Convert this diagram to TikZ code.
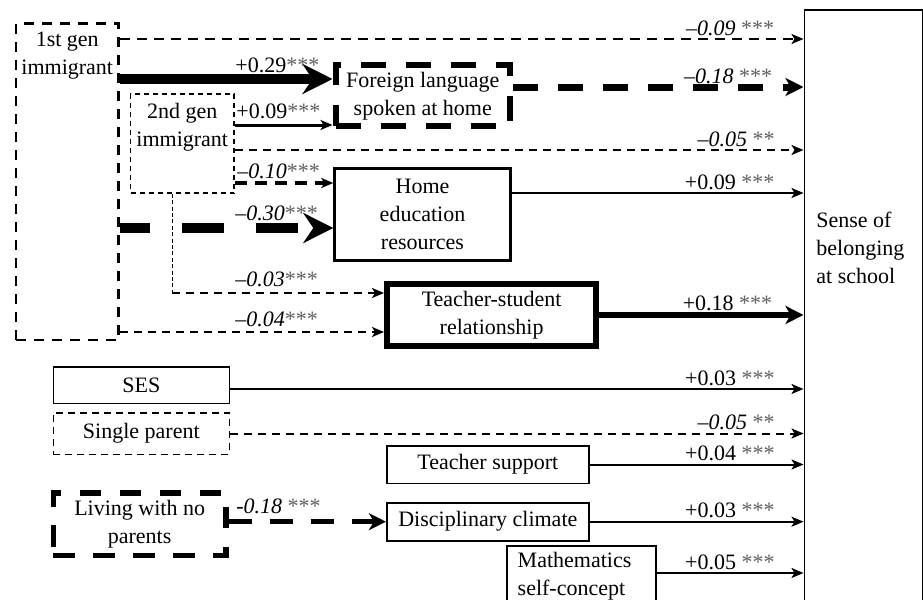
\documentclass[tikz,border=0pt]{standalone}
\usepackage{fontspec}
\setmainfont{Liberation Serif}
\usepackage{tikz}
\usetikzlibrary{arrows.meta,positioning}
\definecolor{stargray}{RGB}{95,95,95}
\newcommand{\sig}[1]{\textcolor{stargray}{#1}}

\begin{document}
\begin{tikzpicture}[x=0.5pt,y=-0.5pt,>={Stealth[length=6pt,width=5pt,inset=1.5pt]},
  every node/.style={align=center,font=\fontsize{11}{14}\selectfont},
  plainbox/.style={draw,line width=0.8pt},
  firstbox/.style={draw,line width=1.3pt,dash pattern=on 5pt off 4pt},
  secondbox/.style={draw,line width=0.7pt,dash pattern=on 2.5pt off 2pt},
  langbox/.style={draw,line width=3pt,dash pattern=on 12.5pt off 10pt},
  livebox/.style={draw,line width=2.7pt,dash pattern=on 10.8pt off 9.2pt},
  singlebox/.style={draw,line width=0.8pt,dash pattern=on 3.5pt off 2.5pt},
  thindash/.style={line width=1pt,dash pattern=on 4pt off 3pt},
  middash/.style={line width=1.3pt,dash pattern=on 5pt off 3.5pt},
  thickdash/.style={line width=2pt,dash pattern=on 6pt off 4pt},
  heavydash/.style={line width=3.5pt,dash pattern=on 12.5pt off 10pt},
  livedash/.style={line width=2.5pt,dash pattern=on 11.5pt off 9pt},
  finedash/.style={line width=0.5pt,dash pattern=on 2pt off 1.2pt},
  llbl/.style={anchor=base west,inner sep=0pt},
  rlbl/.style={anchor=base east,inner sep=0pt,xshift=-14pt,yshift=2pt}]
  \useasboundingbox (0,0) rectangle (923,600);

  \node[firstbox,minimum width=51.25pt,minimum height=158.25pt] (gen1) at (67.25,181.75) {};
  \node[anchor=north,inner sep=0pt] (gen1txt) at ([yshift=-4.5pt]gen1.north) {1st gen\\immigrant};
  \node[secondbox,minimum width=51.75pt,minimum height=49.5pt] (gen2) at (182.25,143.5) {};
  \node[anchor=north,inner sep=0pt] (gen2txt) at ([yshift=-5pt]gen2.north) {2nd gen\\immigrant};
  \node[langbox,minimum width=87.25pt,minimum height=30.25pt] (fl) at (422.75,95.75)
    {Foreign language\\spoken at home};
  \node[draw,line width=1.2pt,minimum width=88pt,minimum height=46pt] (hed) at (422.5,214.5)
    {Home\\education\\resources};
  \node[draw,line width=3pt,minimum width=104.65pt,minimum height=31.25pt] (tsr) at (491.65,314.95)
    {Teacher-student\\relationship};
  \node[plainbox,minimum width=88pt,minimum height=18.3pt] (ses) at (141.3,385) {SES};
  \node[singlebox,minimum width=88pt,minimum height=20.8pt] (sp) at (141.3,433.5) {Single parent};
  \node[livebox,minimum width=86.35pt,minimum height=31.25pt] (live) at (139.65,524.25)
    {Living with no\\parents};
  \node[plainbox,minimum width=101.15pt,minimum height=18.8pt] (ts) at (487.85,464.5) {Teacher support};
  \node[plainbox,minimum width=101.15pt,minimum height=19pt] (dc) at (487.85,521.7) {Disciplinary climate};
  \node[plainbox,align=left,text width=63.5pt,inner xsep=5.5pt,minimum height=30.9pt] (msc) at (581.2,576.6)
    {Mathematics\\self-concept};
  \node[plainbox,minimum width=59.1pt,minimum height=300pt] (sob) at (863.4,310) {};
  \node[anchor=north west,align=left,inner sep=0pt] (sobtxt) at (816,212) {Sense of\\belonging\\at school};

  \coordinate (hA) at (0,39);
  \coordinate (hB) at (0,79);
  \coordinate (hC) at (0,87);
  \coordinate (hD) at (0,125);
  \coordinate (hE) at (0,150);
  \coordinate (hF) at (0,183);
  \coordinate (hG) at (0,193);
  \coordinate (hH) at (0,228);
  \coordinate (hI) at (0,293);
  \coordinate (hJ) at (0,332);
  \coordinate (hK) at (0,389);
  \coordinate (hL) at (0,573);
  \coordinate (vT) at (172,0);

  \draw[middash,->] (gen1.east |- hA) -- (sob.west |- hA) node[rlbl]{\textit{--0.09} \sig{***}};
  \draw[line width=5pt,-{Stealth[length=15pt,width=15pt,inset=5pt]}] (gen1.east |- hB) -- (fl.west |- hB);
  \draw[heavydash,-{Stealth[length=9pt,width=9pt,inset=2.5pt]}] (fl.east |- hC) -- (sob.west |- hC)
    node[rlbl]{\textit{--0.18} \sig{***}};
  \draw[line width=1.5pt,->] (gen2.east |- hD) -- (fl.west |- hD);
  \draw[thindash,->] (gen2.east |- hE) -- (sob.west |- hE) node[rlbl]{\textit{--0.05} \sig{**}};
  \draw[thickdash,->] (gen2.east |- hF) -- (hed.west |- hF);
  \draw[line width=1.2pt,->] (hed.east |- hG) -- (sob.west |- hG) node[rlbl]{+0.09 \sig{***}};
  \draw[line width=5pt,dash pattern=on 21pt off 16pt,dash phase=6pt,
    -{Stealth[length=15pt,width=15pt,inset=5pt]}] (gen1.east |- hH) -- (hed.west |- hH);
  \draw[finedash] (gen2.south -| vT) -- (vT |- hI);
  \draw[thindash,->] (vT |- hI) -- (tsr.west |- hI);
  \draw[thindash,->] (gen1.east |- hJ) -- (tsr.west |- hJ);
  \draw[line width=3.3pt,-{Stealth[length=9pt,width=9pt,inset=2.5pt]}] (tsr.east) -- (sob.west |- tsr.east)
    node[rlbl]{+0.18 \sig{***}};
  \draw[line width=1pt,->] (ses.east |- hK) -- (sob.west |- hK) node[rlbl]{+0.03 \sig{***}};
  \draw[thindash,->] (sp.east) -- (sob.west |- sp.east) node[rlbl]{\textit{--0.05} \sig{**}};
  \draw[line width=1pt,->] (ts.east) -- (sob.west |- ts.east) node[rlbl]{+0.04 \sig{***}};
  \draw[line width=1pt,->] (dc.east) -- (sob.west |- dc.east) node[rlbl]{+0.03 \sig{***}};
  \draw[line width=1pt,->] (msc.east |- hL) -- (sob.west |- hL) node[rlbl]{+0.05 \sig{***}};
  \draw[livedash,-{Stealth[length=8.5pt,width=8.5pt,inset=2.5pt]}] (live.east |- dc.west) -- (dc.west);

  \node[llbl] (l29) at (235,72) {+0.29\sig{***}};
  \node[llbl] (l09) at (236,118) {+0.09\sig{***}};
  \node[llbl] (l10) at (237,178) {\textit{--0.10}\sig{***}};
  \node[llbl] (l30) at (235,220) {\textit{--0.30}\sig{***}};
  \node[llbl] (l03) at (235,286) {\textit{--0.03}\sig{***}};
  \node[llbl] (l04) at (235,326) {\textit{--0.04}\sig{***}};
  \node[llbl] (l18) at (236,513) {\textit{-0.18} \sig{***}};
\end{tikzpicture}
\end{document}
